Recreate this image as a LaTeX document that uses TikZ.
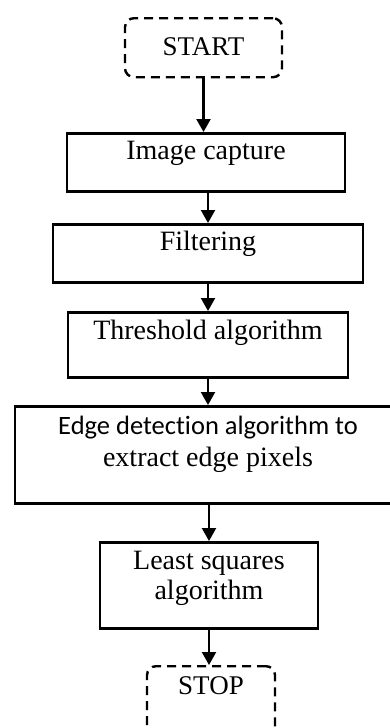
\documentclass[tikz,border=0pt]{standalone}
\usepackage{fontspec}
\setmainfont{Liberation Serif}
\newfontfamily\sansfont[Ligatures=NoCommon]{Carlito}
\usetikzlibrary{arrows.meta}

\tikzset{
  block/.style={draw, line width=2.8pt, inner sep=0pt, align=center, anchor=north,
    font=\fontsize{28}{31}\selectfont},
  termbox/.style={block, line width=2.4pt, dash pattern=on 9pt off 6pt, rounded corners=9pt},
  flow/.style={->, line width=2.2pt}
}

\begin{document}
\begin{tikzpicture}[x=1pt,y=-1pt,>={Triangle[width=14pt,length=13pt]}]

      \useasboundingbox (0,0) rectangle (390,728);
      \clip (0,0) rectangle (390,728);

      % START
      \node[termbox, minimum width=157pt, text height=37pt, text depth=22pt,
        font=\fontsize{27}{31}\selectfont]
        (start) at (203.5,17) {START};

      % steps
      \node[block, minimum width=278pt, text height=26pt, text depth=32pt]
        (capture) at (206,132) {Image capture};
      \node[block, minimum width=310pt, text height=26pt, text depth=32pt]
        (filter) at (208,223) {Filtering};
      \node[block, minimum width=280pt, text height=27pt, text depth=38pt]
        (thresh) at (208,311) {Threshold algorithm};
      \node[block, minimum width=386pt, text height=60pt, text depth=37pt,
        font=\fontsize{28}{32}\selectfont]
        (edge) at (208,405)
        {{\sansfont\fontsize{26.5}{32}\selectfont Edge detection algorithm to}\\
          extract edge pixels};
      \node[block, minimum width=218pt, text height=57pt, text depth=29pt,
        font=\fontsize{28}{30}\selectfont]
        (lsq) at (209,541) {Least squares\\ algorithm};

      % STOP
      \node[termbox, minimum width=128pt, text height=28pt, text depth=57pt,
        font=\fontsize{27}{31}\selectfont]
        (stop) at (211,665) {STOP};

      % arrows
      \draw[flow] (start) -- (start |- capture.north);
      \draw[flow] (filter |- capture.south) -- (filter.north);
      \draw[flow] (filter) -- (filter |- thresh.north);
      \draw[flow] (thresh) -- (thresh |- edge.north);
      \draw[flow] (lsq |- edge.south) -- (lsq.north);
      \draw[flow] (lsq) -- (lsq |- stop.north);

\end{tikzpicture}
\end{document}
